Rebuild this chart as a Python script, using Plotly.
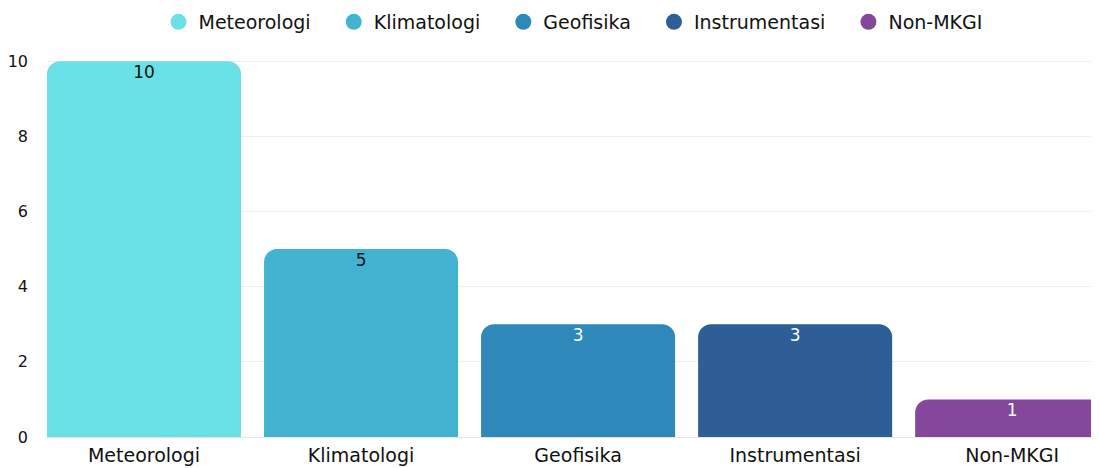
import plotly.graph_objects as go

categories = ["Meteorologi", "Klimatologi", "Geofisika", "Instrumentasi", "Non-MKGI"]
values = [10, 5, 3, 3, 1]
colors = ["#6ae1e6", "#42b3d1", "#2e88ba", "#2d5f96", "#84479b"]
text_colors = ["#111111", "#111111", "#ffffff", "#ffffff", "#ffffff"]
y_ticks = [0, 2, 4, 6, 8, 10]

FONT = "DejaVu Sans, sans-serif"
PAD = "\u00a0\u00a0\u00a0"

# page body has an 8px margin, so the figure is 8px smaller than the window
W, H = 1091, 460

fig = go.Figure()
fig.add_trace(go.Bar(
    x=categories, y=values,
    marker=dict(color=colors, cornerradius=13, line=dict(width=0)),
    showlegend=False, hoverinfo="x+y",
))
fig.add_trace(go.Scatter(
    x=categories, y=values, mode="markers+text",
    marker=dict(size=5, opacity=0),
    text=[str(v) for v in values],
    textposition="bottom center",
    textfont=dict(color=text_colors, size=17, family=FONT),
    showlegend=False, hoverinfo="skip",
))
for i, (c, col) in enumerate(zip(categories, colors)):
    fig.add_trace(go.Scatter(
        x=[None], y=[None], mode="markers",
        name=c + (PAD if i < len(categories) - 1 else ""),
        marker=dict(symbol="circle", size=20, color=col),
    ))

fig.update_layout(
    width=W, height=H,
    margin=dict(l=39, r=0, t=52, b=31, autoexpand=False),
    plot_bgcolor="white", paper_bgcolor="white",
    font=dict(family=FONT, size=18, color="#111111"),
    bargap=0.106,
    legend=dict(orientation="h", x=0.5, xanchor="center", y=1 - 14 / H, yanchor="middle",
                yref="container", font=dict(size=19, family=FONT, color="#111111"),
                itemsizing="trace", itemwidth=30),
    xaxis=dict(range=[-0.447, 4.4], showgrid=False, showline=False, ticks="",
               tickfont=dict(size=19), ticklabelstandoff=5, fixedrange=True,
               automargin=False),
    yaxis=dict(range=[0, 10.03], tickvals=y_ticks, showgrid=True, gridcolor="#eeeeee",
               zeroline=True, zerolinecolor="#e6e6e6", zerolinewidth=1,
               ticks="", ticklabelstandoff=18, tickfont=dict(size=16), automargin=False),
)

fig.write_html("out.html")
